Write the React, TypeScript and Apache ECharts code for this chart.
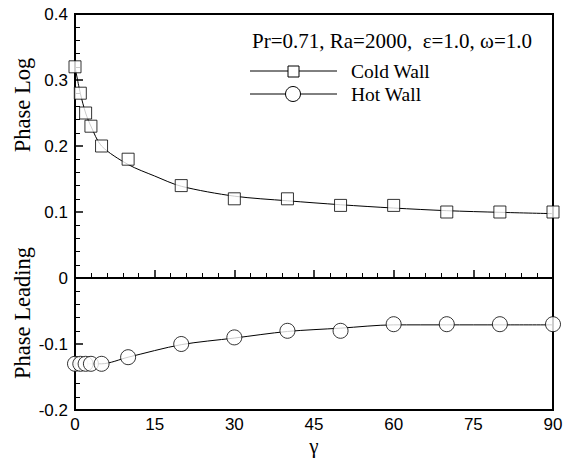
import React, { useEffect, useRef } from "react";
import * as echarts from "echarts";

const coldX = [0, 1, 2, 3, 5, 10, 20, 30, 40, 50, 60, 70, 80, 90];
const coldMarkers = [0.32, 0.28, 0.25, 0.23, 0.2, 0.18, 0.14, 0.12, 0.12, 0.11, 0.11, 0.1, 0.1, 0.1];
const coldCurveX = [0, 1, 2, 3, 5, 10, 15, 20, 30, 40, 50, 60, 70, 80, 90];
const coldCurve = [0.32, 0.28, 0.25, 0.23, 0.2, 0.172, 0.1545, 0.139, 0.124, 0.117, 0.111, 0.106, 0.102, 0.0995, 0.0975];

const hotX = [0, 1, 2, 3, 5, 10, 20, 30, 40, 50, 60, 70, 80, 90];
const hotMarkers = [-0.13, -0.13, -0.13, -0.13, -0.13, -0.12, -0.1, -0.09, -0.08, -0.08, -0.07, -0.07, -0.07, -0.07];
const hotCurveX = [0, 1, 2, 3, 5, 10, 20, 30, 40, 50, 60, 70, 80, 90];
const hotCurve = [-0.13, -0.13, -0.13, -0.13, -0.13, -0.12, -0.101, -0.091, -0.081, -0.076, -0.071, -0.071, -0.071, -0.071];

const paramText = "Pr=0.71, Ra=2000,  \u03b5=1.0, \u03c9=1.0";
const legendNames = ["Cold Wall", "Hot Wall"];
const yTitles = ["Phase Log", "Phase Leading"];
const xTitle = "\u03b3";

const serif = "Liberation Serif";
const sans = "Liberation Sans";

export default function App() {
  const ref = useRef<HTMLDivElement>(null);
  useEffect(() => {
    if (!ref.current) return;
    const chart = echarts.init(ref.current, null, { renderer: "svg" });
    const pair = (xs: number[], ys: number[]) => xs.map((x, i) => [x, ys[i]]);
    chart.setOption({
      animation: false,
      backgroundColor: "#fff",
      grid: {
        left: 75,
        right: 20,
        top: 14,
        bottom: 50,
        outerBoundsMode: "none",
        containLabel: false,
        show: true,
        borderColor: "#000",
        borderWidth: 2,
        backgroundColor: "transparent",
      },
      xAxis: {
        type: "value",
        min: 0,
        max: 90,
        interval: 15,
        axisLine: { show: true, lineStyle: { color: "#000", width: 2 } },
        axisTick: { show: true, inside: true, length: 8, lineStyle: { color: "#000", width: 1.5 } },
        minorTick: { show: true, splitNumber: 5, length: 5, lineStyle: { color: "#000", width: 1 } },
        splitLine: { show: false },
        axisLabel: { fontFamily: sans, fontSize: 17, color: "#000", margin: 6 },
      },
      yAxis: {
        type: "value",
        min: -0.2,
        max: 0.4,
        interval: 0.1,
        axisLine: { show: true, lineStyle: { color: "#000", width: 2 } },
        axisTick: { show: true, inside: true, length: 8, lineStyle: { color: "#000", width: 1.5 } },
        minorTick: { show: true, splitNumber: 5, length: 5, lineStyle: { color: "#000", width: 1 } },
        splitLine: { show: false },
        axisLabel: {
          fontFamily: sans,
          fontSize: 17,
          color: "#000",
          margin: 7,
          formatter: (v: number) => (Math.abs(v) < 1e-9 ? "0" : v.toFixed(1)),
        },
      },
      series: [
        {
          type: "line",
          data: pair(coldCurveX, coldCurve),
          smooth: 0.3,
          showSymbol: false,
          symbol: "none",
          lineStyle: { color: "#000", width: 1 },
          markLine: {
            silent: true,
            symbol: "none",
            label: { show: false },
            lineStyle: { color: "#000", width: 1.5, type: "solid" },
            data: [{ yAxis: 0 }],
          },
          z: 2,
        },
        {
          type: "line",
          data: pair(hotCurveX, hotCurve),
          smooth: 0.3,
          showSymbol: false,
          symbol: "none",
          lineStyle: { color: "#000", width: 1 },
          z: 2,
        },
        {
          type: "scatter",
          data: pair(coldX, coldMarkers),
          symbol: "rect",
          symbolSize: 12,
          clip: false,
          itemStyle: { color: "#fff", borderColor: "#000", borderWidth: 1 },
          z: 5,
        },
        {
          type: "scatter",
          data: pair(hotX, hotMarkers),
          symbol: "circle",
          symbolSize: 15,
          clip: false,
          itemStyle: { color: "#fff", borderColor: "#000", borderWidth: 1 },
          z: 5,
        },
      ],
      graphic: [
        {
          type: "text",
          x: 252,
          y: 41,
          style: { text: paramText, fontFamily: serif, fontSize: 21, fill: "#000", verticalAlign: "middle" },
        },
        { type: "line", shape: { x1: 250, y1: 71, x2: 337, y2: 71 }, style: { stroke: "#000", lineWidth: 1 } },
        { type: "rect", shape: { x: 288, y: 66, width: 11, height: 11 }, style: { fill: "#fff", stroke: "#000", lineWidth: 1 } },
        {
          type: "text",
          x: 351,
          y: 71,
          style: { text: legendNames[0], fontFamily: serif, fontSize: 19.5, fill: "#000", verticalAlign: "middle" },
        },
        { type: "line", shape: { x1: 250, y1: 94, x2: 337, y2: 94 }, style: { stroke: "#000", lineWidth: 1 } },
        { type: "circle", shape: { cx: 293, cy: 94, r: 7.5 }, style: { fill: "#fff", stroke: "#000", lineWidth: 1 } },
        {
          type: "text",
          x: 351,
          y: 94,
          style: { text: legendNames[1], fontFamily: serif, fontSize: 19.5, fill: "#000", verticalAlign: "middle" },
        },
        {
          type: "text",
          x: 22,
          y: 105,
          rotation: Math.PI / 2,
          style: { text: yTitles[0], fontFamily: serif, fontSize: 22.5, fill: "#000", align: "center", verticalAlign: "middle" },
        },
        {
          type: "text",
          x: 22,
          y: 313,
          rotation: Math.PI / 2,
          style: { text: yTitles[1], fontFamily: serif, fontSize: 22.5, fill: "#000", align: "center", verticalAlign: "middle" },
        },
        {
          type: "text",
          x: 314,
          y: 446,
          style: { text: xTitle, fontFamily: serif, fontSize: 21, fill: "#000", align: "center", verticalAlign: "middle" },
        },
      ],
    });
    return () => chart.dispose();
  }, []);
  return <div ref={ref} style={{ position: "fixed", left: 0, top: 0, width: 573, height: 460 }} />;
}
